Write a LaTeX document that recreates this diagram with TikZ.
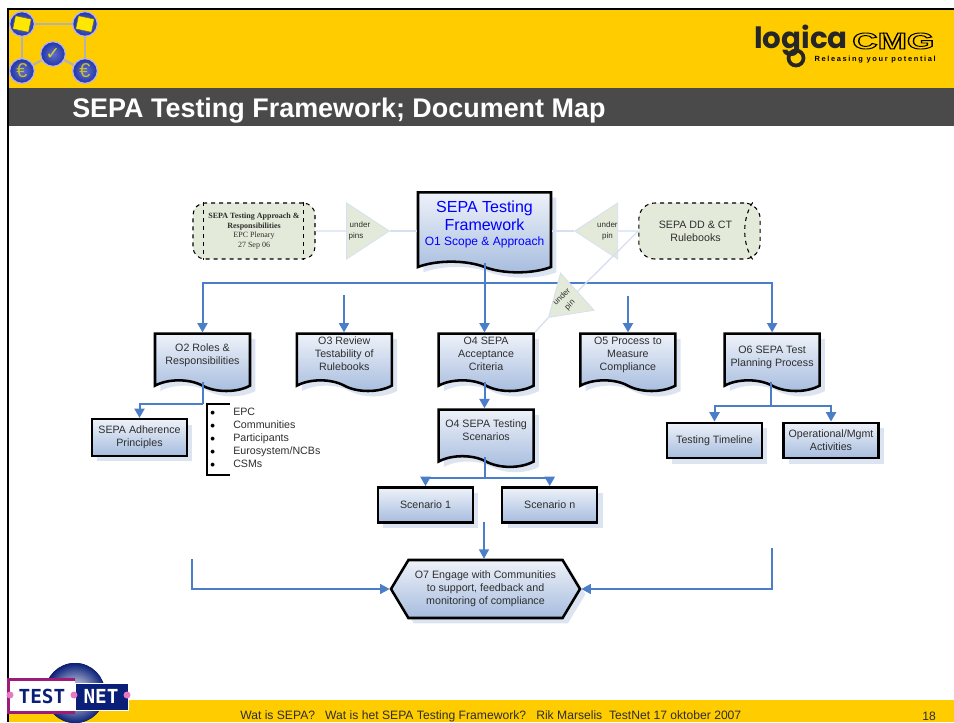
\documentclass[tikz,border=0pt]{standalone}
\usepackage{fontspec}
\setmainfont{Liberation Sans}
\newfontfamily\serifnote{Liberation Serif}
\newfontfamily\logofont{Poppins}
\newfontfamily\sloganfont[LetterSpace=22]{Liberation Sans}
\newfontfamily\markfont{DejaVu Sans Mono}
\newfontfamily\tickfont{DejaVu Sans}
\usepackage{tikz}
\usetikzlibrary{positioning, shapes.symbols, shapes.geometric, shadows, arrows.meta}

\definecolor{barYellow}{HTML}{FFCC00}
\definecolor{barGrey}{HTML}{4A4A4A}
\definecolor{flowBlue}{HTML}{4A7EC8}
\definecolor{paleLine}{HTML}{D5E0F0}
\definecolor{paleGreen}{HTML}{E4EAD9}
\definecolor{boxLight}{HTML}{EEF2F9}
\definecolor{boxDark}{HTML}{A6BCDE}
\definecolor{shadowBlue}{HTML}{DCE4F2}
\definecolor{inkGrey}{HTML}{2E2E2E}
\definecolor{markNavy}{HTML}{0A1F78}
\definecolor{markPurple}{HTML}{9C1C78}
\definecolor{markPink}{HTML}{E878C4}
\definecolor{ballBlue}{HTML}{2A3FC0}

\newcommand{\wavegap}{\\[-5.25pt]\mbox{}}

\tikzset{
  boxbase/.style={draw=black, line width=1.9pt, top color=boxLight, bottom color=boxDark, text=inkGrey,
    align=center, inner sep=0pt, font=\fontsize{8}{9.75}\selectfont,
    drop shadow={shadow xshift=4pt, shadow yshift=-4pt, fill=shadowBlue, opacity=1}},
  wavebox/.style={boxbase, tape, tape bend top=none, tape bend bottom=out and in, tape bend height=8pt},
  docbox/.style={wavebox, minimum width=71.25pt, minimum height=43pt},
  stepbox/.style={boxbase, rectangle, minimum width=71.25pt, minimum height=26.5pt},
  sourcebox/.style={draw=black, dashed, line width=0.8pt, fill=paleGreen, rectangle, rounded corners=9pt,
    minimum height=42pt, inner sep=0pt, align=center, text=inkGrey},
  undertri/.style={isosceles triangle, isosceles triangle apex angle=66, isosceles triangle stretches,
    draw=paleLine, line width=0.6pt, fill=paleGreen, inner sep=0pt, minimum height=32pt, minimum width=42pt,
    align=center, text=inkGrey, font=\fontsize{6}{8.5}\selectfont},
  flow/.style={draw=flowBlue, line width=1.5pt, -{Triangle[length=7pt,width=7.5pt]}},
  flowline/.style={draw=flowBlue, line width=1.5pt},
  thinflow/.style={draw=flowBlue, line width=0.9pt, -{Triangle[length=7pt,width=7.5pt]}},
  under/.style={draw=paleLine, line width=1pt},
  logoball/.style={circle, inner color=ballBlue!75!white, outer color=ballBlue!85!black, draw=white!70!blue, line width=0.9pt, minimum size=18.5pt, inner sep=0pt},
  logosheet/.style={rectangle, fill=yellow!90!orange, draw=olive!70!black, line width=0.3pt, minimum width=12pt, minimum height=10pt, inner sep=0pt, rotate=-12},
  logolink/.style={draw=black!30, line width=1.6pt}
}

\begin{document}
\begin{tikzpicture}[x=0.75pt, y=-0.75pt, node distance=33.2pt]
\useasboundingbox (0,0) rectangle (954,722);
% page furniture
\fill[white] (0,0) rectangle (954,722);
\fill[barYellow] (9,9) rectangle (954,88);
\fill[barGrey] (9,88) rectangle (954,126);
\fill[barYellow] (9,700) rectangle (954,722);
\fill[black] (6.5,7.5) rectangle (954,9.5);
\fill[black] (6.5,7.5) rectangle (9,722);
\node (title) [anchor=west, inner sep=0pt, text=white, font=\fontsize{20.2}{22}\selectfont\bfseries] at (72,110.5) {SEPA Testing Framework; Document Map};
\node (footer) [anchor=west, inner sep=0pt, text=inkGrey, font=\fontsize{9.1}{11}\selectfont] at (240,716.5) {Wat is SEPA?\ \ \ Wat is het SEPA Testing Framework?\ \ \ Rik Marselis\ \ TestNet 17 oktober 2007};
\node (pageno) [anchor=west, inner sep=0pt, text=inkGrey, font=\fontsize{9.1}{11}\selectfont] at (922,716.5) {18};

% top left emblem
\node (ballA) [logoball] at (22,24) {};
\node (ballB) [logoball] at (85,24) {};
\node (ballC) [logoball] at (22,71) {};
\node (ballD) [logoball] at (85,71) {};
\node (ballE) [logoball] at (53,54) {};
\draw[logolink] (ballA) -- (ballB);
\draw[logolink] (ballA) -- (ballC);
\draw[logolink] (ballB) -- (ballD);
\draw[logolink] (ballC) -- (ballE);
\draw[logolink] (ballE) -- (ballD);
\node (sheetA) [logosheet] at (22,24) {};
\node (sheetB) [logosheet] at (85,24) {};
\node (euroC) [text=yellow!75!black, font=\fontsize{15}{15}\selectfont] at (22,71) {€};
\node (euroD) [text=yellow!75!black, font=\fontsize{15}{15}\selectfont] at (85,71) {€};
\node (tick) [text=yellow!85!black, font=\tickfont\fontsize{13}{13}\selectfont] at (53,54) {✓};

% company mark
\draw[black!85, line width=2.8pt] (796,58) circle [radius=7.5];
\node (logica) [anchor=east, inner sep=0pt, text=black!85, font=\logofont\fontsize{22}{22}\selectfont\bfseries] at (848,41) {logica};
\node (cmg) [anchor=west, inner sep=0pt, font=\fontsize{17}{17}\selectfont\bfseries] at (852,41) {\scalebox{1.55}[1]{\special{pdf:code 1 Tr 0.7 w}CMG\special{pdf:code 0 Tr}}};
\node (slogan) [anchor=east, inner sep=0pt, font=\sloganfont\fontsize{5.6}{6}\selectfont\bfseries] at (936,60) {Releasing your potential};

% bottom left mark
\fill[inner color=white, outer color=markNavy] (75,693) circle [radius=30];
\node (testbox) [rectangle, fill=white, minimum width=49.5pt, minimum height=24pt, inner sep=0pt] at (42,696) {};
\draw[markPurple, line width=2.5pt] (testbox.north east) -- (testbox.north west) -- (testbox.south west) -- (testbox.south east);
\node (netbox) [rectangle, fill=markNavy, draw=white, line width=0.4pt, minimum width=40pt, minimum height=20pt, inner sep=0pt] at (101.5,696.5) {};
\node (testword) [text=markNavy, inner sep=0pt, font=\markfont\fontsize{14.5}{15}\selectfont\bfseries] at (42,696) {TEST};
\node (netword) [text=white, inner sep=0pt, font=\markfont\fontsize{14.5}{15}\selectfont\bfseries] at (101,696) {NET};
\fill[markPink] (10,695) circle [radius=3.5];
\fill[markPink] (74,695) circle [radius=3.5];
\fill[markPink] (127,695) circle [radius=3.5];

% sources
\node (approach) [sourcebox, minimum width=91.5pt, font=\serifnote\fontsize{6}{7.1}\selectfont] at (254,231) {\textbf{SEPA Testing Approach \&}\\ \textbf{Responsibilities}\\ EPC Plenary\\ 27 Sep 06};
\node (rulebooks) [sourcebox, rounded corners=12pt, minimum width=91pt, font=\fontsize{8}{9.75}\selectfont] at (699.5,231) {\hspace*{-6pt}SEPA DD \& CT\\ \hspace*{-6pt}Rulebooks};
\draw[dashed, line width=0.8pt] ([xshift=8.25pt]approach.north west) -- ([xshift=8.25pt]approach.south west);
\draw[dashed, line width=0.8pt] ([xshift=-9pt]approach.north east) -- ([xshift=-9pt]approach.south east);
\draw[dashed, line width=0.8pt] ([xshift=-6pt]rulebooks.north east) .. controls ([xshift=-14pt,yshift=-12pt]rulebooks.north east) and ([xshift=-14pt,yshift=12pt]rulebooks.south east) .. ([xshift=-6pt]rulebooks.south east);

% main column
\node (framework) [wavebox, minimum width=99.75pt, minimum height=60pt, text=blue, font=\fontsize{12}{14}\selectfont] at (484.5,227) {SEPA Testing\\ Framework\\[-3pt] {\fontsize{9}{12}\selectfont O1 Scope \& Approach}\\[-8pt]\mbox{}};

% second row
\node (roles) [docbox] at (202.5,357) {O2 Roles \&\\ Responsibilities\wavegap};
\node (testability) [docbox, right=of roles] {O3 Review\\ Testability of\\ Rulebooks\wavegap};
\node (acceptance) [docbox, right=of testability] {O4 SEPA\\ Acceptance\\ Criteria\wavegap};
\node (compliance) [docbox, right=of acceptance] {O5 Process to\\ Measure\\ Compliance\wavegap};
\node (planning) [docbox, right=35pt of compliance] {O6 SEPA Test\\ Planning Process};

\node (adherence) [stepbox, minimum height=27.5pt] at (139.5,437.5) {SEPA Adherence\\ Principles};
\node (scenarios) [docbox, below=20pt of acceptance] {O4 SEPA Testing\\ Scenarios\wavegap};
\node (scenarioA) [stepbox] at (425.5,505) {Scenario 1};
\node (scenarioN) [stepbox, right=20pt of scenarioA] {Scenario n};
\node (timeline) [stepbox] at (714.5,440.5) {Testing Timeline};
\node (activities) [stepbox, right=14.25pt of timeline] {Operational/Mgmt\\ Activities};
\node (engage) [boxbase, signal, signal to=west and east, signal pointer angle=118, minimum width=141.75pt, minimum height=43.5pt] at (485.5,589) {O7 Engage with Communities\\ to support, feedback and\\ monitoring of compliance};

% under pins
\node (pinsA) [undertri, anchor=apex] at (390,231) {under\\ pins\hspace*{6pt}};
\node (pinB) [undertri, anchor=apex, shape border rotate=180] at (574,231) {\hspace*{6pt}under\\ \hspace*{6pt}pin};
\draw[under] (approach) -- (pinsA);
\draw[under] (pinsA.apex) -- (pinsA.apex -| framework.west);
\draw[under] (pinB.apex -| framework.east) -- (pinB.apex);
\draw[under] (pinB) -- (rulebooks);

% main flow
\coordinate (bus) at (484.5,283);
\coordinate (reviewin) at (344,295);
\coordinate (measurein) at (628,296);
\coordinate (rolesplit) at (203,404);
\coordinate (planningsplit) at (771,406);
\coordinate (scenariosplit) at (485,478);
\coordinate (engagein) at (484,522);
\coordinate (engageleft) at (192,559);
\coordinate (engageright) at (772,548);
\draw[flow] (bus |- framework.south) -- (bus |- acceptance.north);
\draw[flow] (bus) -| (roles);
\draw[flow] (bus) -| (planning);
\draw[flow] (reviewin) -- (reviewin |- testability.north);
\draw[flow] (measurein) -- (measurein |- compliance.north);
\draw[flowline] (rolesplit |- roles.south) -- (rolesplit);
\draw[flow] (rolesplit) -| (adherence);
\draw[flow] (bus |- acceptance.south) -- (bus |- scenarios.north);
\draw[flowline] (scenariosplit |- scenarios.south) -- (scenariosplit);
\draw[flow] (scenariosplit) -| (scenarioA);
\draw[flow] (scenariosplit) -| (scenarioN);
\draw[flowline] (planningsplit |- planning.south) -- (planningsplit);
\draw[flow] (planningsplit) -| (timeline);
\draw[flow] (planningsplit) -| (activities);
\draw[thinflow] (engagein) -- (engagein |- engage.north);
\draw[thinflow] (engageleft) |- (engage.west);
\draw[thinflow] (engageright) |- (engage.east);

% pin across the bus
\node (pinC) [undertri, anchor=apex, rotate=222, minimum height=29pt, minimum width=37.5pt] at (548,318) {};
\node (pinCtext) [rotate=45, align=center, inner sep=0pt, text=inkGrey, font=\fontsize{6}{8.5}\selectfont] at (566,301) {under\\ pin};
\draw[under] (rulebooks.west) -- (pinC.lower side);
\draw[under] (pinC.apex) -- (acceptance.north east);

% parties list
\draw[line width=1.9pt] (230,404) -| (207,475) -- (230,475);
\node (bullets) [anchor=north west, inner sep=0pt, align=left, font=\fontsize{10}{9.75}\selectfont\bfseries] at (210,411) {•\\ •\\ •\\ •\\ •};
\node (parties) [anchor=north west, inner sep=0pt, align=left, text=inkGrey, font=\fontsize{8}{9.75}\selectfont] at (233,408) {EPC\\ Communities\\ Participants\\ Eurosystem/NCBs\\ CSMs};
\end{tikzpicture}
\end{document}
